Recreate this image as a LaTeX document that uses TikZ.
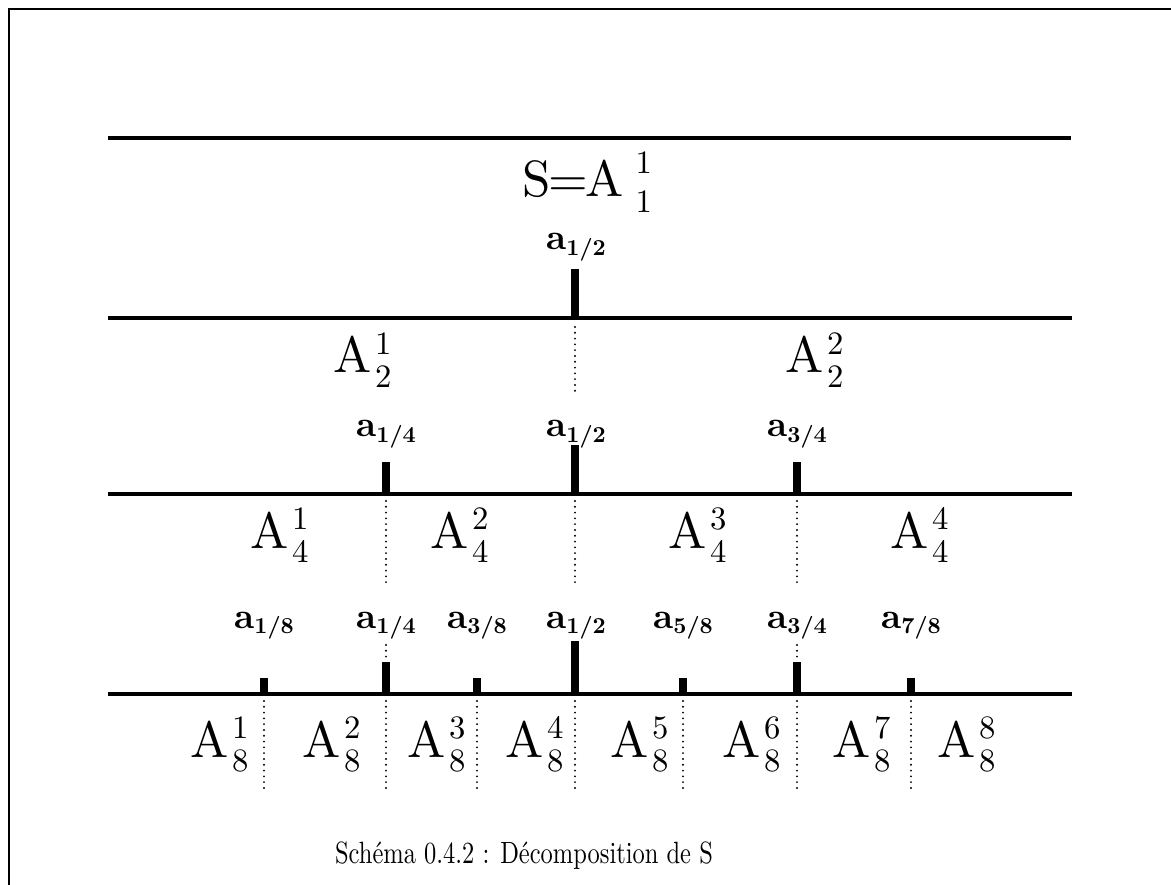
\documentclass[tikz,border=0pt]{standalone}
\usepackage{fontspec}
\setmainfont{lmroman10}[Extension=.otf, UprightFont=*-regular, BoldFont=*-bold]
\usepackage{graphicx}

\newcommand{\digitfont}{\fontsize{18.6}{19}\selectfont}
\newcommand{\subsup}[3][2pt]{\kern#1\rlap{\raisebox{10.8pt}{\digitfont #2}}\raisebox{-8.5pt}{\digitfont #3}}
\newcommand{\alab}[1]{a\raisebox{-3pt}{\fontsize{13}{14}\selectfont #1}}

\begin{document}
\begin{tikzpicture}[x=0.02cm, y=-0.02cm,
    mainline/.style={line width=2.3pt},
    tickmark/.style={line width=4pt},
    guide/.style={line width=1.2pt, dash pattern=on 0pt off 3.3pt, line cap=round},
    biglab/.style={inner sep=0pt, anchor=base west, font=\fontsize{29}{30}\selectfont},
    smalllab/.style={inner sep=0pt, anchor=base, font=\fontsize{20.5}{22}\selectfont\bfseries}]
            \useasboundingbox (0,0) rectangle (1171,885);
            \draw[line width=1.2pt] (9,885) -- (9,9) -- (1171,9);

            % level 1
            \draw[mainline] (108,138) -- (1071,138);
            \node[biglab] (s) at (522,197) {S\kern-1.5pt=\kern-1.5pt A\kern7pt\rlap{\raisebox{13.5pt}{\digitfont 1}}\raisebox{-9pt}{\digitfont 1}};

            % level 2
            \draw[mainline] (108,318) -- (1072,318);
            \draw[tickmark] (575,318) -- (575,269);
            \draw[guide] (575,327) -- (575,393);
            \node[smalllab] (l2h) at (576,250) {\alab{1/2}};
            \node[biglab] (a21) at (333,373) {A\subsup{1}{2}};
            \node[biglab] (a22) at (785,373) {A\subsup{2}{2}};

            % level 3
            \draw[mainline] (108,494) -- (1072,494);
            \draw[tickmark] (386,494) -- (386,462);
            \draw[tickmark] (575,494) -- (575,445);
            \draw[tickmark] (797,494) -- (797,462);
            \draw[guide] (386,501) -- (386,585);
            \draw[guide] (575,501) -- (575,585);
            \draw[guide] (797,501) -- (797,585);
            \node[smalllab] (l3a) at (386,437) {\alab{1/4}};
            \node[smalllab] (l3b) at (576,437) {\alab{1/2}};
            \node[smalllab] (l3c) at (797,437) {\alab{3/4}};
            \node[biglab] (a41) at (250,548) {A\subsup{1}{4}};
            \node[biglab] (a42) at (430,548) {A\subsup{2}{4}};
            \node[biglab] (a43) at (668,548) {A\subsup{3}{4}};
            \node[biglab] (a44) at (890,548) {A\subsup{4}{4}};

            % level 4
            \draw[mainline] (108,694) -- (1072,694);
            \draw[tickmark] (264,694) -- (264,678);
            \draw[tickmark] (386,694) -- (386,662);
            \draw[tickmark] (477,694) -- (477,678);
            \draw[tickmark] (575,694) -- (575,641);
            \draw[tickmark] (683,694) -- (683,678);
            \draw[tickmark] (797,694) -- (797,662);
            \draw[tickmark] (911,694) -- (911,678);
            \draw[guide] (386,645) -- (386,658);
            \draw[guide] (797,645) -- (797,658);
            \draw[guide] (264,701) -- (264,790);
            \draw[guide] (386,701) -- (386,790);
            \draw[guide] (477,701) -- (477,790);
            \draw[guide] (575,701) -- (575,790);
            \draw[guide] (683,701) -- (683,790);
            \draw[guide] (797,701) -- (797,790);
            \draw[guide] (911,701) -- (911,790);
            \node[smalllab] (l4a) at (264,628) {\alab{1/8}};
            \node[smalllab] (l4b) at (386,628) {\alab{1/4}};
            \node[smalllab] (l4c) at (477,628) {\alab{3/8}};
            \node[smalllab] (l4d) at (576,628) {\alab{1/2}};
            \node[smalllab] (l4e) at (683,628) {\alab{5/8}};
            \node[smalllab] (l4f) at (797,628) {\alab{3/4}};
            \node[smalllab] (l4g) at (911,628) {\alab{7/8}};
            \node[biglab] (a81) at (190,757) {A\subsup{1}{8}};
            \node[biglab] (a82) at (302,757) {A\subsup{2}{8}};
            \node[biglab] (a83) at (407,757) {A\subsup{3}{8}};
            \node[biglab] (a84) at (505,757) {A\subsup{4}{8}};
            \node[biglab] (a85) at (610,757) {A\subsup{5}{8}};
            \node[biglab] (a86) at (722,757) {A\subsup{6}{8}};
            \node[biglab] (a87) at (832,757) {A\subsup{7}{8}};
            \node[biglab] (a88) at (937,757) {A\subsup{8}{8}};

            % caption
            \node[inner sep=0pt, anchor=base, font=\fontsize{17.5}{19}\selectfont] (cap) at (524,863)
                {\resizebox{215pt}{\height}{Schéma 0.4.2 : Décomposition de S}};
        \end{tikzpicture}
\end{document}
